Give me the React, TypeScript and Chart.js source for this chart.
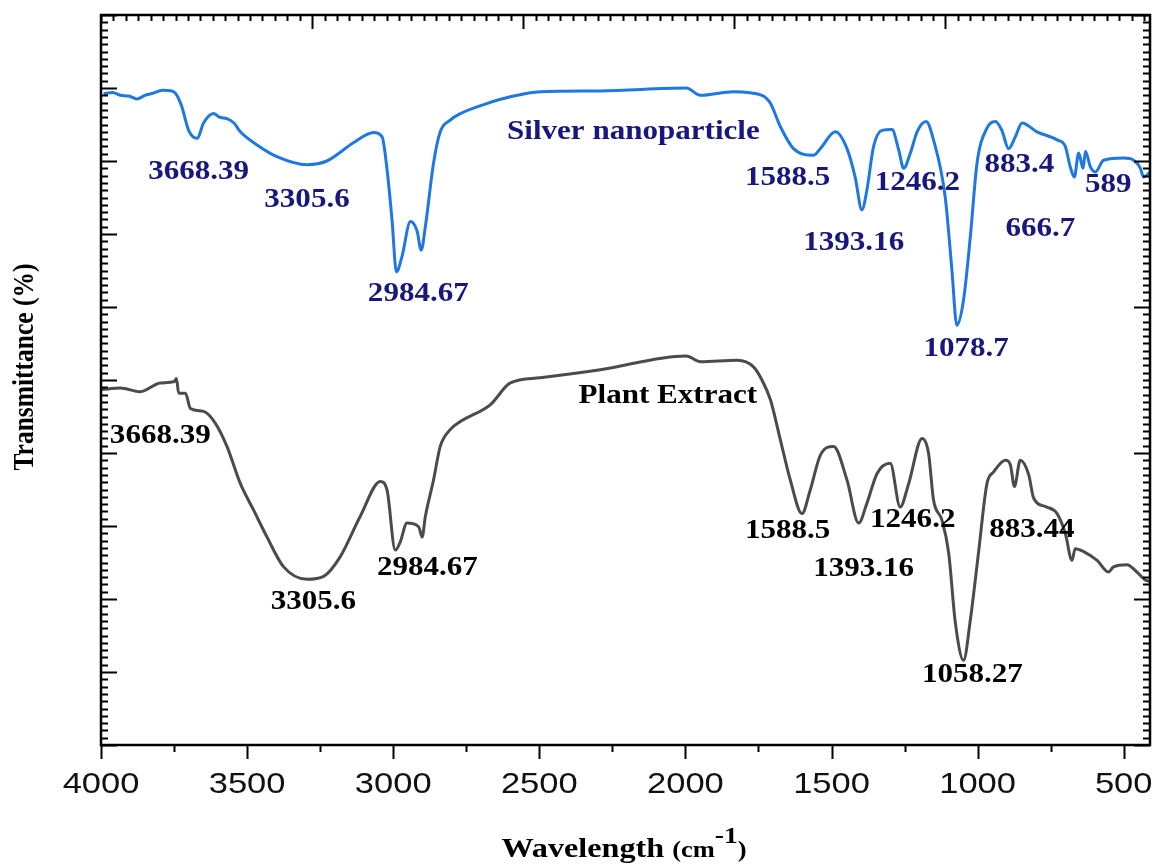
import React, { useEffect, useRef } from "react";
import { Chart, registerables } from "chart.js";

Chart.register(...registerables);

// FTIR spectrum of the silver nanoparticles (wavenumber, cm-1)
const silverWavenumber = [
  3991, 3960, 3934, 3905, 3877, 3850, 3821, 3790, 3757, 3746, 3735, 3723, 3700, 3671,
  3649, 3615, 3595, 3569, 3545, 3523, 3466, 3398, 3295, 3227, 3136, 3067, 3038, 3021,
  3004, 2989, 2970, 2941, 2919, 2904, 2890, 2862, 2839, 2805, 2770, 2685, 2599, 2497,
  2291, 1997, 1949, 1836, 1738, 1709, 1675, 1630, 1561, 1538, 1487, 1447, 1419, 1396,
  1379, 1356, 1327, 1293, 1270, 1253, 1230, 1207, 1176, 1151, 1111, 1088, 1071, 1048,
  1025, 1002, 968, 939, 917, 894, 871, 848, 797, 728, 700, 683, 669, 654, 639, 631, 614,
  597, 569, 500, 466, 443, 432, 409,
];
const silverTransmittance = [
  89.2, 89.4, 89.0, 88.9, 88.5, 89.0, 89.3, 89.7, 89.6, 89.3, 88.6, 87.4, 84.2, 83.1,
  85.2, 86.5, 86.0, 85.8, 85.2, 84.0, 82.2, 80.6, 79.5, 80.0, 82.5, 83.9, 83.3, 78.8,
  71.9, 64.8, 66.9, 71.7, 70.5, 67.8, 71.0, 79.7, 84.0, 85.6, 86.5, 87.8, 88.8, 89.5,
  89.6, 90.0, 89.0, 89.5, 89.0, 87.9, 84.7, 81.7, 80.8, 81.7, 84.0, 81.7, 77.8, 73.3,
  76.0, 82.0, 84.2, 84.3, 81.5, 79.0, 81.1, 84.0, 85.4, 82.9, 75.1, 65.1, 57.5, 61.0,
  69.6, 79.7, 84.5, 85.4, 84.2, 81.7, 83.3, 85.2, 84.0, 82.9, 82.0, 79.2, 77.8, 81.1,
  79.0, 81.3, 79.2, 78.5, 80.1, 80.4, 80.1, 79.0, 77.8, 78.5,
];

// FTIR spectrum of the plant extract
const plantWavenumber = [
  3997, 3934, 3866, 3797, 3749, 3742, 3734, 3711, 3694, 3649, 3609, 3569, 3523, 3478,
  3432, 3375, 3295, 3238, 3181, 3113, 3044, 3021, 2993, 2976, 2953, 2913, 2901, 2890,
  2862, 2839, 2805, 2770, 2668, 2599, 2497, 2291, 1997, 1949, 1823, 1767, 1738, 1709,
  1675, 1641, 1601, 1573, 1538, 1493, 1447, 1407, 1379, 1344, 1299, 1265, 1236, 1190,
  1168, 1151, 1122, 1099, 1076, 1048, 1025, 997, 968, 945, 905, 888, 874, 854, 825, 808,
  763, 728, 700, 677, 666, 637, 591, 552, 535, 489, 455, 426, 409,
];
const plantTransmittance = [
  48.7, 48.9, 48.4, 49.6, 49.8, 50.2, 48.2, 48.2, 46.1, 45.7, 44.1, 40.9, 35.8, 32.2,
  28.5, 24.4, 22.7, 23.1, 25.8, 31.3, 36.1, 34.9, 26.7, 27.8, 30.4, 29.9, 28.5, 31.3,
  36.3, 40.9, 43.2, 44.3, 46.6, 49.6, 50.3, 51.4, 53.3, 52.5, 52.7, 51.8, 50.0, 47.3,
  41.8, 36.3, 31.7, 34.9, 39.7, 40.9, 36.3, 30.4, 33.1, 37.2, 38.6, 32.6, 35.8, 42.0,
  40.0, 33.6, 30.8, 26.3, 16.7, 11.6, 17.1, 26.3, 35.8, 37.4, 39.0, 38.4, 35.4, 39.0,
  37.0, 33.8, 32.6, 31.7, 29.0, 25.3, 26.9, 26.5, 25.3, 23.7, 24.4, 24.7, 23.7, 22.6,
  22.4,
];

// x-axis tick labels
const xTickValues = [4000, 3500, 3000, 2500, 2000, 1500, 1000, 500];

// Peak annotations: text and anchor (wavenumber, transmittance) of the text baseline centre
const silverLabels = [
  { text: "3668.39", x: 3666, y: 77.5 },
  { text: "3305.6", x: 3295, y: 73.7 },
  { text: "2984.67", x: 2914, y: 60.8 },
  { text: "Silver nanoparticle", x: 2178, y: 83.0 },
  { text: "1588.5", x: 1650, y: 76.7 },
  { text: "1393.16", x: 1424, y: 67.8 },
  { text: "1246.2", x: 1206, y: 76.0 },
  { text: "883.4", x: 857, y: 78.5 },
  { text: "666.7", x: 785, y: 69.7 },
  { text: "589", x: 553, y: 75.8 },
  { text: "1078.7", x: 1039, y: 53.3 },
];
const plantLabels = [
  { text: "3668.39", x: 3797, y: 41.4 },
  { text: "3305.6", x: 3273, y: 18.6 },
  { text: "2984.67", x: 2883, y: 23.3 },
  { text: "Plant Extract", x: 2060, y: 46.9 },
  { text: "1588.5", x: 1650, y: 28.4 },
  { text: "1393.16", x: 1390, y: 23.1 },
  { text: "1246.2", x: 1222, y: 29.8 },
  { text: "883.44", x: 814, y: 28.5 },
  { text: "1058.27", x: 1018, y: 8.6 },
];

const SERIF = "'Liberation Serif', 'Times New Roman', serif";
const SANS = "'Liberation Sans', Arial, sans-serif";
const STRETCH = 1.15;
const SILVER_COLOR = "#1f78e2";
const PLANT_COLOR = "#4b4b4b";
const SILVER_TEXT = "#17177e";

function stretchedText(ctx: CanvasRenderingContext2D, text: string, x: number, y: number, font: string, color: string, align: CanvasTextAlign = "center") {
  ctx.save();
  ctx.translate(x, y);
  ctx.scale(STRETCH, 1);
  ctx.font = font;
  ctx.fillStyle = color;
  ctx.textAlign = align;
  ctx.textBaseline = "alphabetic";
  ctx.fillText(text, 0, 0);
  ctx.restore();
}

const frameAndText = {
  id: "frameAndText",
  afterDatasetsDraw(chart: any) {
    const { ctx, chartArea: a, scales } = chart;
    const xs = scales.x;
    const ys = scales.y;
    ctx.save();
    ctx.strokeStyle = "#000";
    ctx.lineWidth = 2;
    ctx.beginPath();
    // left and right ticks (inward)
    for (let v = 0; v <= 100; v += 1) {
      const py = Math.round(ys.getPixelForValue(v)) + 0.5;
      const lenL = v % 10 === 0 ? 16 : 7;
      ctx.moveTo(a.left, py);
      ctx.lineTo(a.left + lenL, py);
      const lenR = v % 20 === 0 ? 16 : 7;
      ctx.moveTo(a.right, py);
      ctx.lineTo(a.right - lenR, py);
    }
    // bottom ticks (outward)
    for (let w = 4000; w >= 410; w -= 250) {
      const px = Math.round(xs.getPixelForValue(w)) + 0.5;
      const len = w % 500 === 0 ? 14 : 7;
      ctx.moveTo(px, a.bottom);
      ctx.lineTo(px, a.bottom + len);
    }
    // top ticks (inward)
    let i = 0;
    for (let w = 4000; w >= 410; w -= 42.5, i++) {
      const px = Math.round(xs.getPixelForValue(w)) + 0.5;
      const len = i % 17 === 0 && i > 0 ? 14 : 6;
      ctx.moveTo(px, a.top);
      ctx.lineTo(px, a.top + len);
    }
    ctx.stroke();

    // frame
    ctx.lineWidth = 2.5;
    ctx.strokeRect(a.left, a.top, a.right - a.left, a.bottom - a.top);

    // x tick labels
    for (const t of xTickValues) {
      stretchedText(ctx, String(t), xs.getPixelForValue(t), 793, `30px ${SANS}`, "#111");
    }

    // peak labels
    for (const l of silverLabels) {
      stretchedText(ctx, l.text, xs.getPixelForValue(l.x), ys.getPixelForValue(l.y), `bold 27px ${SERIF}`, SILVER_TEXT);
    }
    for (const l of plantLabels) {
      stretchedText(ctx, l.text, xs.getPixelForValue(l.x), ys.getPixelForValue(l.y), `bold 27px ${SERIF}`, "#000");
    }

    // x axis title: Wavelength (cm-1)
    const parts = [
      { t: "Wavelength ", f: `bold 28px ${SERIF}`, dy: 0 },
      { t: "(cm", f: `bold 23px ${SERIF}`, dy: 0 },
      { t: "-1", f: `bold 24px ${SERIF}`, dy: -14 },
      { t: ")", f: `bold 23px ${SERIF}`, dy: 0 },
    ];
    let total = 0;
    const widths: number[] = [];
    for (const p of parts) {
      ctx.font = p.f;
      const w = ctx.measureText(p.t).width * STRETCH;
      widths.push(w);
      total += w;
    }
    let cx = 624 - total / 2;
    parts.forEach((p, k) => {
      stretchedText(ctx, p.t, cx, 857 + p.dy, p.f, "#000", "left");
      cx += widths[k];
    });

    // y axis title
    ctx.save();
    ctx.translate(33, 367);
    ctx.rotate(-Math.PI / 2);
    ctx.scale(1, STRETCH);
    ctx.font = `bold 25.5px ${SERIF}`;
    ctx.fillStyle = "#000";
    ctx.textAlign = "center";
    ctx.textBaseline = "alphabetic";
    ctx.fillText("Transmittance (%)", 0, 0);
    ctx.restore();

    ctx.restore();
  },
};

export default function App() {
  const canvasRef = useRef<HTMLCanvasElement | null>(null);

  useEffect(() => {
    const canvas = canvasRef.current;
    if (!canvas) return;
    const chart = new Chart(canvas, {
      type: "line",
      data: {
        datasets: [
          {
            label: "Silver nanoparticle",
            data: silverWavenumber.map((x, i) => ({ x, y: silverTransmittance[i] })),
            borderColor: SILVER_COLOR,
            borderWidth: 3,
            pointRadius: 0,
            cubicInterpolationMode: "monotone",
            fill: false,
          },
          {
            label: "Plant Extract",
            data: plantWavenumber.map((x, i) => ({ x, y: plantTransmittance[i] })),
            borderColor: PLANT_COLOR,
            borderWidth: 3,
            pointRadius: 0,
            cubicInterpolationMode: "monotone",
            fill: false,
          },
        ],
      },
      options: {
        animation: false,
        responsive: false,
        devicePixelRatio: 1,
        layout: { padding: { left: 101, right: 5, top: 15, bottom: 119 } },
        plugins: {
          legend: { display: false },
          tooltip: { enabled: false },
        },
        scales: {
          x: { type: "linear", reverse: true, min: 410, max: 4000, display: false },
          y: { type: "linear", min: 0, max: 100, display: false },
        },
      },
      plugins: [frameAndText],
    });
    return () => chart.destroy();
  }, []);

  return (
    <div style={{ position: "absolute", left: 0, top: 0, width: 1155, height: 864, background: "#fff" }}>
      <canvas ref={canvasRef} width={1155} height={864} style={{ display: "block" }} />
    </div>
  );
}
